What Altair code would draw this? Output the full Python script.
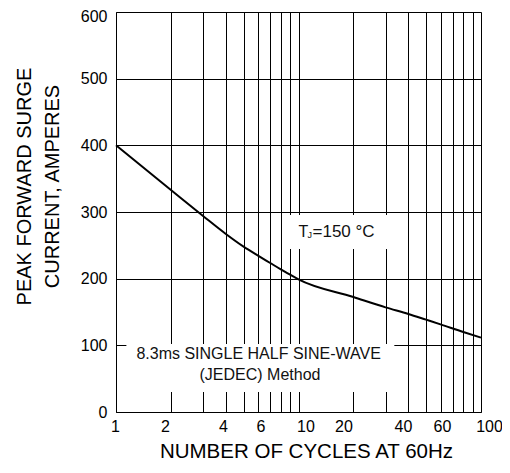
import altair as alt
import pandas as pd

# ---- data ----
cycles = [1, 2, 3, 4, 5, 6, 7, 8, 9, 10, 20, 30, 40, 50, 60, 80, 100]
surge_current = [400, 333, 294, 267, 248, 234.5, 223.5, 214, 206, 199, 172.5, 157, 147, 138.5, 131.5, 120, 111.6]

x_grid_values = [1, 2, 3, 4, 5, 6, 7, 8, 9, 10, 20, 30, 40, 50, 60, 70, 80, 90, 100]
x_label_values = [1, 2, 4, 6, 10, 20, 40, 60, 100]
y_tick_values = [0, 100, 200, 300, 400, 500, 600]

x_title = "NUMBER OF CYCLES AT 60Hz"
y_title = ["PEAK FORWARD SURGE", "CURRENT, AMPERES"]

note_lines = ["8.3ms SINGLE HALF SINE-WAVE", "(JEDEC) Method"]
note_x = [6.05, 6.15]
note_y = [80, 47.5]

tj_main = "T"
tj_sub = "J"
tj_rest = "=150 °C"
tj_x = [10]
tj_y = [262]

# white boxes behind the two annotations
box_x = [1.14, 8.5]
box_x2 = [33.5, 35]
box_y = [30, 244.5]
box_y2 = [102, 295.5]

FONT = "Liberation Sans"

curve_df = pd.DataFrame({"cycles": cycles, "current": surge_current})
box_df = pd.DataFrame({"x": box_x, "x2": box_x2, "y": box_y, "y2": box_y2})
note_df = pd.DataFrame({"text": note_lines, "x": note_x, "y": note_y})
tj_df = pd.DataFrame({"x": tj_x, "y": tj_y})

label_list = "[" + ",".join(str(v) for v in x_label_values) + "]"
label_expr = f"indexof({label_list}, datum.value) >= 0 ? datum.value + '' : ''"
offset_expr = ("datum.value == 1 ? -1 : datum.value == 2 ? -6 : datum.value == 4 ? -3 : "
               "datum.value == 6 ? 2.5 : datum.value == 10 ? 7 : datum.value == 20 ? -10 : "
               "datum.value == 40 ? -5.5 : datum.value == 60 ? 1.5 : datum.value == 100 ? 8 : 0")
y_offset_expr = "datum.value == 600 ? 4 : 0"

x_scale = alt.Scale(type="log", domain=[1, 100], nice=False)
y_scale = alt.Scale(domain=[0, 600], nice=False)

x_axis = alt.Axis(
    values=x_grid_values, labelExpr=label_expr, labelOffset={"expr": offset_expr},
    grid=True, gridColor="black", gridWidth=1, gridOpacity=1,
    ticks=False, domain=True, domainColor="black", domainWidth=1,
    labelFont=FONT, labelFontSize=16, labelColor="black", labelPadding=6,
    labelOverlap=False, labelFlush=False,
    title=x_title, titleFont=FONT, titleFontSize=20.5, titleFontWeight="normal",
    titleColor="black", titleX=190, titleY=45, titleBaseline="alphabetic",
    titleAnchor="start", titleAlign="center",
)
y_axis = alt.Axis(
    values=y_tick_values, grid=True, gridColor="black", gridWidth=1, gridOpacity=1,
    ticks=False, domain=True, domainColor="black", domainWidth=1,
    labelFont=FONT, labelFontSize=16, labelColor="black", labelPadding=9,
    labelOffset={"expr": y_offset_expr},
    title=y_title, titleFont=FONT, titleFontSize=20, titleFontWeight="normal",
    titleColor="black", titleX=-92, titleY=174, titleBaseline="middle",
    titleAlign="center", titleLineHeight=28, titleAngle=270,
)

boxes = alt.Chart(box_df).mark_rect(fill="white", stroke=None).encode(
    x=alt.X("x:Q", scale=x_scale, axis=x_axis),
    x2="x2:Q",
    y=alt.Y("y:Q", scale=y_scale, axis=y_axis),
    y2="y2:Q",
)

curve = alt.Chart(curve_df).mark_line(color="black", strokeWidth=2, interpolate="monotone").encode(
    x=alt.X("cycles:Q", scale=x_scale),
    y=alt.Y("current:Q", scale=y_scale),
)

notes = alt.Chart(note_df).mark_text(
    font=FONT, fontSize=16, color="#111", align="center", baseline="alphabetic"
).encode(
    x=alt.X("x:Q", scale=x_scale),
    y=alt.Y("y:Q", scale=y_scale),
    text="text:N",
)

tj_t = alt.Chart(tj_df).mark_text(
    font=FONT, fontSize=16, color="#111", align="left", baseline="alphabetic", text=tj_main
).encode(x=alt.X("x:Q", scale=x_scale), y=alt.Y("y:Q", scale=y_scale))
tj_j = alt.Chart(tj_df).mark_text(
    font=FONT, fontSize=9, color="#111", align="left", baseline="alphabetic", text=tj_sub, dx=9, dy=1
).encode(x=alt.X("x:Q", scale=x_scale), y=alt.Y("y:Q", scale=y_scale))
tj_r = alt.Chart(tj_df).mark_text(
    font=FONT, fontSize=17, color="#111", align="left", baseline="alphabetic", text=tj_rest, dx=14
).encode(x=alt.X("x:Q", scale=x_scale), y=alt.Y("y:Q", scale=y_scale))

chart = alt.layer(boxes, curve, notes, tj_t, tj_j, tj_r).properties(
    width=365, height=400,
    autosize=alt.AutoSizeParams(type="none"),
    padding={"left": 108, "top": 4, "right": 21, "bottom": 55},
).configure_view(stroke="black", strokeWidth=1).configure(background="white")

chart.save("out.html", embed_options={"renderer": "svg", "actions": False})
